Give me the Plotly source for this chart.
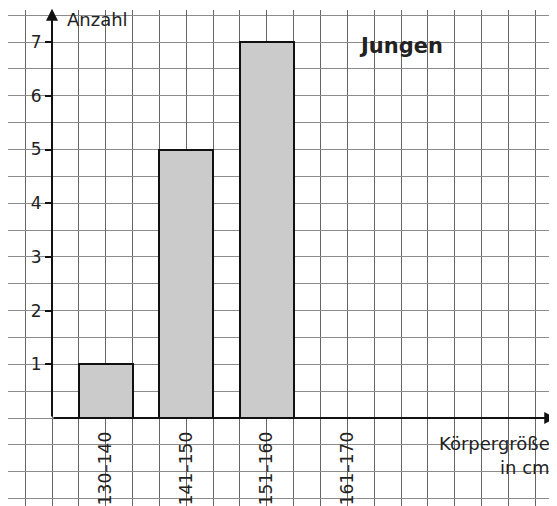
import plotly.graph_objects as go

categories = ["130–140", "141–150", "151–160", "161–170"]
counts = [1, 5, 7, 0]
cat_pos = [2, 5, 8, 11]          # category centres in grid cells
y_ticks = [1, 2, 3, 4, 5, 6, 7]

FONT = "DejaVu Sans"
OFF = 8                          # page body margin
W, H = 557 - OFF, 506 - OFF
ML, MT = 0, 10 - OFF
CELL = 26.85
X0_PX, Y0_PX = 52 - OFF, 418 - OFF
xr = [(ML - X0_PX) / CELL, (W - X0_PX) / CELL]
yr = [-(H - Y0_PX) / (2 * CELL), (Y0_PX - MT) / (2 * CELL)]

fig = go.Figure()
fig.add_trace(go.Bar(
    x=cat_pos, y=counts, width=2,
    marker=dict(color="#cbcbcb", line=dict(color="#111", width=2)),
    hoverinfo="skip",
))

grid_x = "#666666"
grid_y = "#8c8c8c"
fig.update_layout(
    width=W, height=H,
    margin=dict(l=ML, r=0, t=MT, b=0),
    paper_bgcolor="white", plot_bgcolor="white",
    showlegend=False, bargap=0,
    font=dict(family=FONT, color="#222", size=17),
    xaxis=dict(
        range=xr, anchor="free", position=(H - Y0_PX) / (H - MT),
        tickmode="array", tickvals=cat_pos, ticktext=categories,
        tickangle=-90, ticks="outside", ticklen=6, tickcolor="rgba(0,0,0,0)",
        tickfont=dict(family=FONT, size=17, color="#222"),
        showgrid=True, gridcolor=grid_x, gridwidth=1,
        minor=dict(tick0=0, dtick=1, showgrid=True, gridcolor=grid_x, gridwidth=1),
        zeroline=False, showline=False, fixedrange=True,
    ),
    yaxis=dict(
        range=yr, anchor="free", position=(X0_PX - ML) / (W - ML),
        tickmode="array", tickvals=y_ticks,
        ticks="outside", ticklen=7, tickwidth=2, tickcolor="#111",
        tickfont=dict(family=FONT, size=17, color="#222"),
        showgrid=True, gridcolor=grid_y, gridwidth=1,
        minor=dict(tick0=0, dtick=0.5, showgrid=True, gridcolor=grid_y, gridwidth=1),
        zeroline=False, showline=False, fixedrange=True,
    ),
)

# axes with arrows
fig.add_annotation(x=18.78, y=0, ax=0, ay=0, xref="x", yref="y", axref="x", ayref="y",
                   text="", showarrow=True, arrowhead=2, arrowsize=1.2, arrowwidth=2,
                   arrowcolor="#111")
fig.add_annotation(x=0, y=7.62, ax=0, ay=0, xref="x", yref="y", axref="x", ayref="y",
                   text="", showarrow=True, arrowhead=2, arrowsize=1.2, arrowwidth=2,
                   arrowcolor="#111")

fig.add_annotation(x=0.5, y=7.42, xref="x", yref="y", text="Anzahl", showarrow=False,
                   xanchor="left", yanchor="middle", font=dict(family=FONT, size=18, color="#222"))
fig.add_annotation(x=13.0, y=6.92, xref="x", yref="y", text="<b>Jungen</b>", showarrow=False,
                   xanchor="center", yanchor="middle", font=dict(family=FONT, size=21, color="#222"))
fig.add_annotation(x=18.62, y=-0.47, xref="x", yref="y", text="Körpergröße", showarrow=False,
                   xanchor="right", yanchor="middle", font=dict(family=FONT, size=18, color="#222"))
fig.add_annotation(x=18.62, y=-0.92, xref="x", yref="y", text="in cm", showarrow=False,
                   xanchor="right", yanchor="middle", font=dict(family=FONT, size=18, color="#222"))

fig.write_html("out.html")
